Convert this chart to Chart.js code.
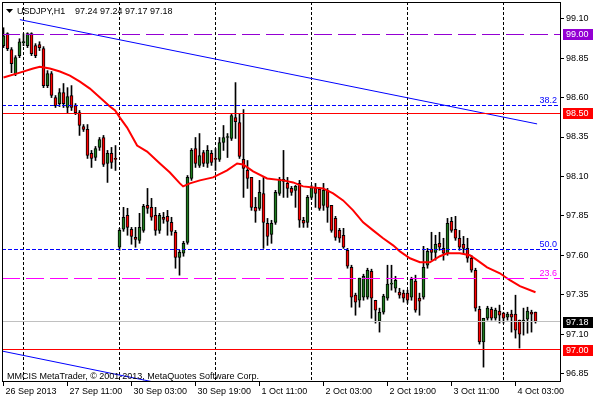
<!DOCTYPE html>
<html lang="en">
<head>
<meta charset="UTF-8">
<title>USDJPY,H1</title>
<script src="https://cdn.jsdelivr.net/npm/chart.js"></script>
<style>
  html, body { margin: 0; padding: 0; background: #fff; }
  canvas { display: block; }
</style>
</head>
<body>
<canvas id="myChart" width="600" height="400"></canvas>
<script>
// axis ticks
let xTickBars = [0, 16, 32, 48, 64, 80, 96, 112, 128];
let xTickLabels = ['26 Sep 2013', '27 Sep 11:00', '30 Sep 03:00', '30 Sep 19:00', '1 Oct 11:00',
  '2 Oct 03:00', '2 Oct 19:00', '3 Oct 11:00', '4 Oct 03:00'];
let midnightBars = [5, 29, 53, 77, 101, 125];
let yTicks = [99.10, 98.85, 98.60, 98.35, 98.10, 97.85, 97.60, 97.35, 97.10, 96.85];

// H1 candles, one per bar index
let opens = [98.929, 99.005, 98.904, 98.752, 98.866, 98.948, 98.929, 99.005, 98.929, 98.936,
  98.910, 98.676, 98.752, 98.600, 98.562, 98.632, 98.537, 98.613, 98.549, 98.505,
  98.416, 98.398, 98.246, 98.220, 98.284, 98.347, 98.182, 98.246, 98.214, 97.651,
  97.765, 97.853, 97.765, 97.714, 97.695, 97.758, 97.917, 97.904, 97.853, 97.758,
  97.841, 97.847, 97.809, 97.746, 97.587, 97.613, 97.682, 98.087, 98.277, 98.170,
  98.252, 98.182, 98.246, 98.214, 98.208, 98.315, 98.347, 98.341, 98.473, 98.442,
  98.208, 98.138, 98.094, 97.904, 97.898, 97.992, 97.803, 97.733, 97.809, 97.992,
  98.068, 98.056, 98.024, 98.012, 98.056, 97.822, 97.809, 97.967, 98.024, 98.018,
  97.917, 98.012, 97.917, 97.834, 97.758, 97.727, 97.632, 97.524, 97.347, 97.315,
  97.334, 97.334, 97.499, 97.315, 97.182, 97.239, 97.328, 97.417, 97.391, 97.366,
  97.360, 97.360, 97.334, 97.436, 97.328, 97.334, 97.537, 97.638, 97.619, 97.676,
  97.644, 97.613, 97.815, 97.765, 97.708, 97.670, 97.644, 97.581, 97.505, 97.258,
  97.050, 97.201, 97.258, 97.201, 97.246, 97.233, 97.208, 97.227, 97.227, 97.189,
  97.176, 97.195, 97.239, 97.24];
let highs = [99.043, 99.011, 98.917, 98.866, 98.973, 99.005, 99.011, 99.011, 98.942, 98.954,
  98.923, 98.771, 98.765, 98.613, 98.657, 98.689, 98.663, 98.676, 98.562, 98.518,
  98.429, 98.429, 98.265, 98.290, 98.347, 98.360, 98.265, 98.284, 98.296, 97.771,
  97.904, 97.898, 97.777, 97.777, 97.866, 97.923, 98.024, 97.961, 97.904, 97.866,
  97.872, 97.885, 97.841, 97.758, 97.632, 97.689, 98.106, 98.277, 98.347, 98.372,
  98.265, 98.296, 98.265, 98.277, 98.347, 98.423, 98.372, 98.499, 98.695, 98.499,
  98.524, 98.201, 98.094, 97.967, 98.075, 98.094, 97.834, 97.822, 98.012, 98.094,
  98.265, 98.094, 98.037, 98.043, 98.075, 97.841, 97.980, 98.043, 98.056, 98.030,
  98.056, 98.024, 97.917, 97.847, 97.771, 97.771, 97.644, 97.537, 97.360, 97.455,
  97.480, 97.518, 97.512, 97.315, 97.265, 97.353, 97.537, 97.537, 97.467, 97.391,
  97.379, 97.379, 97.461, 97.474, 97.360, 97.657, 97.644, 97.746, 97.727, 97.746,
  97.708, 97.834, 97.841, 97.847, 97.758, 97.720, 97.708, 97.600, 97.518, 97.277,
  97.201, 97.277, 97.271, 97.265, 97.284, 97.239, 97.239, 97.252, 97.347, 97.189,
  97.265, 97.271, 97.252, 97.24];
let lows = [98.917, 98.898, 98.758, 98.739, 98.853, 98.929, 98.917, 98.866, 98.853, 98.898,
  98.663, 98.663, 98.600, 98.537, 98.543, 98.537, 98.499, 98.518, 98.492, 98.360,
  98.385, 98.214, 98.157, 98.201, 98.265, 98.163, 98.062, 98.151, 98.138, 97.632,
  97.752, 97.727, 97.670, 97.651, 97.676, 97.746, 97.866, 97.822, 97.727, 97.739,
  97.803, 97.727, 97.727, 97.518, 97.474, 97.594, 97.670, 98.075, 98.157, 98.157,
  98.163, 98.157, 98.170, 98.138, 98.195, 98.265, 98.220, 98.328, 98.341, 98.214,
  97.967, 98.024, 97.885, 97.809, 97.885, 97.644, 97.663, 97.676, 97.796, 97.980,
  97.967, 97.967, 97.980, 97.904, 97.777, 97.777, 97.777, 97.955, 97.904, 97.885,
  97.885, 97.809, 97.746, 97.695, 97.682, 97.644, 97.518, 97.271, 97.220, 97.271,
  97.315, 97.322, 97.201, 97.170, 97.113, 97.227, 97.315, 97.379, 97.366, 97.328,
  97.303, 97.296, 97.315, 97.239, 97.220, 97.322, 97.518, 97.569, 97.569, 97.632,
  97.569, 97.600, 97.746, 97.695, 97.632, 97.613, 97.556, 97.493, 97.246, 97.037,
  96.891, 97.189, 97.189, 97.189, 97.170, 97.170, 97.189, 97.113, 97.075, 97.012,
  97.094, 97.106, 97.113, 97.17];
let closes = [98.992, 98.910, 98.815, 98.853, 98.954, 98.954, 99.005, 98.879, 98.866, 98.917,
  98.676, 98.752, 98.613, 98.549, 98.632, 98.562, 98.606, 98.537, 98.505, 98.423,
  98.398, 98.233, 98.214, 98.277, 98.334, 98.176, 98.246, 98.189, 98.208, 97.758,
  97.841, 97.777, 97.720, 97.701, 97.777, 97.910, 97.898, 97.841, 97.758, 97.853,
  97.828, 97.815, 97.752, 97.587, 97.619, 97.676, 98.094, 98.265, 98.182, 98.233,
  98.182, 98.265, 98.189, 98.208, 98.315, 98.347, 98.353, 98.486, 98.448, 98.227,
  98.151, 98.087, 97.904, 97.879, 97.999, 97.809, 97.720, 97.803, 97.999, 98.081,
  98.081, 98.024, 97.999, 98.037, 97.822, 97.803, 97.967, 98.030, 97.992, 97.898,
  98.012, 97.904, 97.758, 97.714, 97.708, 97.651, 97.531, 97.334, 97.303, 97.455,
  97.467, 97.505, 97.328, 97.252, 97.239, 97.341, 97.417, 97.423, 97.442, 97.347,
  97.328, 97.315, 97.448, 97.252, 97.309, 97.524, 97.625, 97.619, 97.670, 97.651,
  97.613, 97.803, 97.758, 97.708, 97.651, 97.644, 97.581, 97.505, 97.265, 97.050,
  97.201, 97.265, 97.201, 97.252, 97.220, 97.201, 97.227, 97.208, 97.125, 97.100,
  97.189, 97.246, 97.227, 97.18];

// moving average, read at these bar positions
let maBars = [0, 4.1, 7.4, 9.1, 11.6, 14.1, 16.6, 19.1, 21.6, 24.1, 26.6, 27.9, 29.1, 30.9, 33.4,
  35.9, 39.1, 41.6, 44.1, 44.9, 46.6, 49.1, 52.4, 55.9, 58.4, 59.9, 62.4, 65.9, 69.9, 72.4,
  74.9, 77.4, 79.9, 82.4, 84.9, 87.4, 89.9, 92.4, 94.9, 97.4, 99.1, 101.6, 104.1, 106.6, 109.1,
  110.9, 114.1, 116.6, 118.4, 120.9, 124.1, 126.6, 129.1, 133];
let maValues = [98.727, 98.758, 98.784, 98.796, 98.784, 98.765, 98.739, 98.701, 98.657, 98.600,
  98.543, 98.518, 98.473, 98.410, 98.296, 98.258, 98.182, 98.125, 98.056, 98.037,
  98.056, 98.075, 98.094, 98.138, 98.182, 98.176, 98.132, 98.087, 98.075, 98.062,
  98.037, 98.030, 98.024, 97.992, 97.948, 97.885, 97.809, 97.758, 97.708, 97.663,
  97.625, 97.581, 97.556, 97.556, 97.594, 97.613, 97.613, 97.600, 97.569, 97.524,
  97.486, 97.442, 97.404, 97.366];

// channel trend lines
let upperTrendBars = [4.1, 133.4];
let upperTrendValues = [99.094, 98.433];
let lowerTrendBars = [-0.4, 40];
let lowerTrendValues = [96.993, 96.784];

// horizontal objects
let levelPrices = [99.00, 98.50, 97.00];
let bidPrice = 97.18;
let fibNames = ['38.2', '50.0', '23.6'];
let fibPrices = [98.549, 97.638, 97.455];

let title = 'USDJPY,H1';
let ohlcText = '97.24 97.24 97.17 97.18';
let copyright = 'MMCIS MetaTrader, \u00a9 2001-2013, MetaQuotes Software Corp.';

Chart.defaults.font.family = '"Liberation Sans", Arial, sans-serif';
Chart.defaults.font.size = 9;
Chart.defaults.color = '#000';

let bars = opens.map((o, i) => i);
let bodyColors = bars.map(i => closes[i] >= opens[i] ? '#1e7b1e' : '#ff0000');

// no extra room for overhanging tick labels
function noPad(s) {
  s.paddingTop = 0;
  s.paddingBottom = 0;
  s.paddingLeft = 0;
  s.paddingRight = 0;
}

// mt4 style extras: frame, separators, levels, labels
const mtPlugin = {
  id: 'mt',
  beforeDatasetsDraw(chart) {
    const { ctx, chartArea: a, scales: { x } } = chart;
    ctx.save();
    ctx.strokeStyle = '#000';
    ctx.lineWidth = 1;
    ctx.setLineDash([3, 2]);
    midnightBars.forEach(b => {
      const px = Math.floor(x.getPixelForValue(b)) + 0.5;
      ctx.beginPath();
      ctx.moveTo(px, a.top);
      ctx.lineTo(px, a.bottom);
      ctx.stroke();
    });
    ctx.restore();
  },
  afterDatasetsDraw(chart) {
    const { ctx, chartArea: a, scales: { y } } = chart;
    const row = v => Math.floor(y.getPixelForValue(v));
    const hline = (v, color, dash) => {
      ctx.save();
      if (dash.length) {
        ctx.strokeStyle = color;
        ctx.lineWidth = 1;
        ctx.setLineDash(dash);
        ctx.beginPath();
        ctx.moveTo(a.left, row(v) + 0.5);
        ctx.lineTo(a.right, row(v) + 0.5);
        ctx.stroke();
      } else {
        ctx.fillStyle = color;
        ctx.fillRect(a.left, row(v), a.right - a.left, 1);
      }
      ctx.restore();
    };
    ctx.save();
    hline(bidPrice, '#c0c0c0', []);
    const levelColors = ['#9400d3', '#ff0000', '#ff0000'];
    const levelDash = [[18, 6], [], []];
    levelPrices.forEach((v, k) => hline(v, levelColors[k], levelDash[k]));
    const fibColors = ['#0000ff', '#0000ff', '#ff00ff'];
    const fibDash = [[4, 2], [4, 2], [18, 6]];
    fibPrices.forEach((v, k) => hline(v, fibColors[k], fibDash[k]));

    ctx.font = '9px "Liberation Sans", Arial, sans-serif';
    ctx.textBaseline = 'alphabetic';
    ctx.textAlign = 'right';
    fibNames.forEach((t, k) => {
      ctx.fillStyle = fibColors[k];
      ctx.fillText(t, a.right - 3, row(fibPrices[k]) - 2);
    });

    // frame
    ctx.fillStyle = '#000';
    ctx.fillRect(a.left, a.top, a.right - a.left + 1, 1);
    ctx.fillRect(a.left, a.bottom, a.right - a.left + 1, 1);
    ctx.fillRect(a.left, a.top, 1, a.bottom - a.top + 1);
    ctx.fillRect(a.right, a.top, 1, a.bottom - a.top + 1);

    // price boxes on the scale
    ctx.textAlign = 'left';
    ctx.textBaseline = 'middle';
    const box = (v, bg, fg) => {
      const cy = Math.round(y.getPixelForValue(v));
      ctx.fillStyle = bg;
      ctx.fillRect(a.right + 3, cy - 5, 30, 11);
      ctx.fillStyle = fg;
      ctx.fillText(v.toFixed(2), a.right + 6, cy + 0.5);
    };
    levelPrices.forEach((v, k) => box(v, levelColors[k], '#fff'));
    box(bidPrice, '#000', '#fff');

    // title and copyright
    ctx.fillStyle = '#000';
    ctx.beginPath();
    ctx.moveTo(6, 9);
    ctx.lineTo(13, 9);
    ctx.lineTo(9.5, 13);
    ctx.closePath();
    ctx.fill();
    ctx.textBaseline = 'alphabetic';
    ctx.fillText(title, 17, 14);
    ctx.fillText(ohlcText, 75, 14);
    ctx.fillText(copyright, 7, 379);
    ctx.restore();
  }
};

let ctx = document.getElementById('myChart').getContext('2d');
let myChart = new Chart(ctx, {
  type: 'bar',
  data: {
    datasets: [
      {
        type: 'line',
        data: maBars.map((b, k) => ({ x: b, y: maValues[k] })),
        borderColor: '#ff0000',
        borderWidth: 2,
        pointRadius: 0,
        tension: 0,
        order: 0
      },
      {
        type: 'line',
        data: upperTrendBars.map((b, k) => ({ x: b, y: upperTrendValues[k] })),
        borderColor: '#0000ff',
        borderWidth: 1,
        pointRadius: 0,
        order: 0
      },
      {
        type: 'line',
        data: lowerTrendBars.map((b, k) => ({ x: b, y: lowerTrendValues[k] })),
        borderColor: '#0000ff',
        borderWidth: 1,
        pointRadius: 0,
        order: 0
      },
      {
        // candle bodies
        data: bars.map(i => ({ x: i, y: [opens[i], closes[i]] })),
        backgroundColor: bodyColors,
        borderColor: '#000',
        borderWidth: 1,
        borderSkipped: false,
        barThickness: 3,
        minBarLength: 1,
        grouped: false,
        order: 1
      },
      {
        // wicks
        data: bars.map(i => ({ x: i, y: [lows[i], highs[i]] })),
        backgroundColor: '#000',
        borderWidth: 0,
        barThickness: 1,
        grouped: false,
        order: 2
      }
    ]
  },
  options: {
    responsive: false,
    animation: false,
    devicePixelRatio: 1,
    layout: { padding: { left: 2, top: 2, right: 0, bottom: 0 } },
    plugins: { legend: { display: false }, tooltip: { enabled: false } },
    scales: {
      x: {
        type: 'linear',
        min: -0.375,
        max: 139.125,
        offset: false,
        afterBuildTicks: s => { s.ticks = xTickBars.map(v => ({ value: v })); },
        afterFit: s => { s.height = 19; noPad(s); },
        grid: { drawOnChartArea: false, offset: false, tickLength: 5, color: '#000' },
        border: { display: false },
        ticks: {
          align: 'start',
          labelOffset: 2,
          padding: 0,
          maxRotation: 0,
          autoSkip: false,
          callback: v => xTickLabels[xTickBars.indexOf(v)]
        }
      },
      y: {
        position: 'right',
        min: 96.803,
        max: 99.206,
        afterBuildTicks: s => { s.ticks = yTicks.map(v => ({ value: v })); },
        afterFit: s => { s.width = 40; noPad(s); },
        grid: { drawOnChartArea: false, tickLength: 4, color: '#000' },
        border: { display: false },
        ticks: { padding: 2, autoSkip: false, callback: v => v.toFixed(2) }
      }
    }
  },
  plugins: [mtPlugin]
});
</script>
</body>
</html>
